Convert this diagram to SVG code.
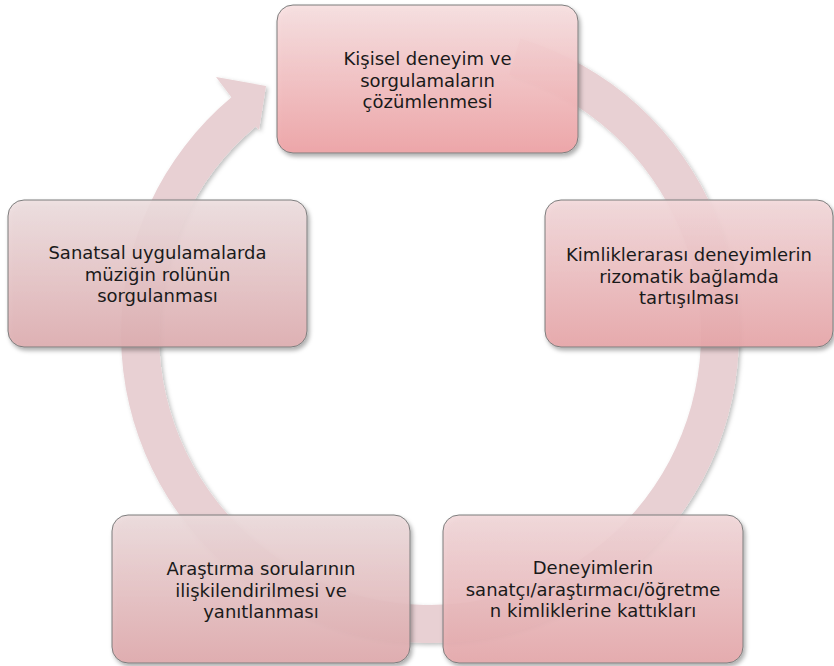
<svg xmlns="http://www.w3.org/2000/svg" width="834" height="666" viewBox="0 0 834 666">
<defs>
<filter id="sh" x="-10%" y="-10%" width="125%" height="125%">
<feDropShadow dx="2" dy="3" stdDeviation="2" flood-color="#000" flood-opacity="0.35"/>
</filter>
<filter id="rsh" x="-10%" y="-10%" width="125%" height="125%">
<feDropShadow dx="2" dy="2" stdDeviation="2" flood-color="#000" flood-opacity="0.25"/>
</filter>
<linearGradient id="g1" x1="0" y1="0" x2="0" y2="1"><stop offset="0" stop-color="#f8e0e1"/><stop offset="1" stop-color="#efa2a5"/></linearGradient>
<linearGradient id="g2" x1="0" y1="0" x2="0" y2="1"><stop offset="0" stop-color="#f3d9db"/><stop offset="1" stop-color="#e8a6a9"/></linearGradient>
<linearGradient id="g3" x1="0" y1="0" x2="0" y2="1"><stop offset="0" stop-color="#eedfe0"/><stop offset="1" stop-color="#dfaeb1"/></linearGradient>
<linearGradient id="g4" x1="0" y1="0" x2="0" y2="1"><stop offset="0" stop-color="#eddcdd"/><stop offset="1" stop-color="#e0aaad"/></linearGradient>
<linearGradient id="g5" x1="0" y1="0" x2="0" y2="1"><stop offset="0" stop-color="#f2d8da"/><stop offset="1" stop-color="#e6a8ab"/></linearGradient>
</defs>
<style>
.box{stroke:#7d7d7d;stroke-width:1;fill-opacity:0.9;filter:url(#sh)}
.ring{fill:#e8d0d3;filter:url(#rsh)}
.t{font-family:"DejaVu Sans","Liberation Sans",sans-serif;font-size:18px;fill:#1a1a1a;text-anchor:middle}
</style>
<g id="connectors">
<path class="ring" d="M 520.4 38.5 A 309 309 0 1 1 231.4 97.3 L 216 77 L 266 86 L 259 130 L 255.8 126.4 A 271 271 0 1 0 509.2 74.8 Z"/>
</g>
<g id="node1">
<rect class="box" x="277" y="5" width="301" height="148" rx="16" fill="url(#g1)"/>
<text class="t" x="427.5" y="65">Kişisel deneyim ve</text>
<text class="t" x="427.5" y="86.5">sorgulamaların</text>
<text class="t" x="427.5" y="108">çözümlenmesi</text>
</g>
<g id="node2">
<rect class="box" x="545" y="200" width="288" height="147" rx="16" fill="url(#g2)"/>
<text class="t" x="689" y="261">Kimliklerarası deneyimlerin</text>
<text class="t" x="689" y="282.5">rizomatik bağlamda</text>
<text class="t" x="689" y="304">tartışılması</text>
</g>
<g id="node3">
<rect class="box" x="8" y="200" width="299" height="147" rx="16" fill="url(#g3)"/>
<text class="t" x="157.5" y="259">Sanatsal uygulamalarda</text>
<text class="t" x="157.5" y="280.5">müziğin rolünün</text>
<text class="t" x="157.5" y="302">sorgulanması</text>
</g>
<g id="node4">
<rect class="box" x="112" y="515" width="298" height="148" rx="16" fill="url(#g4)"/>
<text class="t" x="261" y="575">Araştırma sorularının</text>
<text class="t" x="261" y="596.5">ilişkilendirilmesi ve</text>
<text class="t" x="261" y="618">yanıtlanması</text>
</g>
<g id="node5">
<rect class="box" x="443" y="515" width="300" height="148" rx="16" fill="url(#g5)"/>
<text class="t" x="593" y="574">Deneyimlerin</text>
<text class="t" x="593" y="595.5">sanatçı/araştırmacı/öğretme</text>
<text class="t" x="593" y="617">n kimliklerine kattıkları</text>
</g>
</svg>
